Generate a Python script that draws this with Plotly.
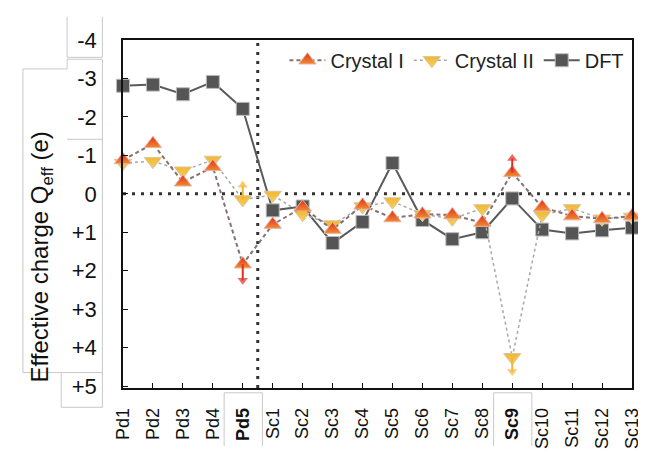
import plotly.graph_objects as go

categories = ["Pd1", "Pd2", "Pd3", "Pd4", "Pd5", "Sc1", "Sc2", "Sc3", "Sc4", "Sc5",
              "Sc6", "Sc7", "Sc8", "Sc9", "Sc10", "Sc11", "Sc12", "Sc13"]
tick_labels = ["Pd1", "Pd2", "Pd3", "Pd4", "<b>Pd5</b>", "Sc1", "Sc2", "Sc3", "Sc4", "Sc5",
               "Sc6", "Sc7", "Sc8", "<b>Sc9</b>", "Sc10", "Sc11", "Sc12", "Sc13"]

crystal1 = [-0.88, -1.30, -0.30, -0.70, 1.83, 0.80, 0.35, 0.93, 0.30, 0.63,
            0.53, 0.55, 0.75, -0.55, 0.35, 0.58, 0.65, 0.58]
crystal2 = [-0.80, -0.85, -0.60, -0.88, 0.15, 0.03, 0.53, 0.80, 0.33, 0.20,
            0.53, 0.65, 0.38, 4.25, 0.55, 0.38, 0.65, 0.60]
dft = [-2.81, -2.84, -2.59, -2.91, -2.21, 0.43, 0.33, 1.28, 0.73, -0.80,
       0.68, 1.18, 1.00, 0.12, 0.93, 1.03, 0.95, 0.88]

# range arrows: (category, start, end)
c1_arrows = [("Pd5", 1.83, 2.25), ("Sc9", -0.55, -0.92)]
c2_arrows = [("Pd5", 0.15, -0.22), ("Sc9", 4.25, 4.62)]

y_ticks = [-4, -3, -2, -1, 0, 1, 2, 3, 4, 5]
y_tick_text = ["-4", "-3", "-2", "-1", "0", "+1", "+2", "+3", "+4", "+5"]

RED = "#e0301e"
YEL = "#f2b632"
GRAY = "#555555"
FONT = "Liberation Sans, Arial, sans-serif"

fig = go.Figure()

fig.add_trace(go.Scatter(
    x=categories, y=dft, name="DFT", mode="lines+markers", legendrank=3,
    line=dict(color="#5a5a5a", width=2),
    marker=dict(symbol="square", size=13, color=GRAY, line=dict(color="#bbbbbb", width=1)),
    cliponaxis=False))

fig.add_trace(go.Scatter(
    x=categories, y=crystal2, name="Crystal II", mode="lines+markers", legendrank=2,
    line=dict(color="#a8a8a8", width=1.5, dash="dot"),
    marker=dict(symbol="triangle-down", size=15, color=YEL,
                gradient=dict(type="vertical", color="#f7d060"),
                line=dict(color="#d8c8a0", width=1)),
    cliponaxis=False))

fig.add_trace(go.Scatter(
    x=categories, y=crystal1, name="Crystal I", mode="lines+markers", legendrank=1,
    line=dict(color="#867272", width=2, dash="4px,3px"),
    marker=dict(symbol="triangle-up", size=15, color=RED,
                gradient=dict(type="vertical", color="#f08a30"),
                line=dict(color="#e8b0a0", width=1)),
    cliponaxis=False))


def add_arrows(arrows, color):
    for cat, y0, y1 in arrows:
        sym = "triangle-down" if y1 > y0 else "triangle-up"
        fig.add_trace(go.Scatter(
            x=[cat, cat], y=[y0, y1], mode="lines+markers", showlegend=False,
            line=dict(color=color, width=2),
            marker=dict(symbol=sym, size=[0, 9], color=color, line=dict(width=0)),
            cliponaxis=False, hoverinfo="skip"))


add_arrows(c2_arrows, YEL)
add_arrows(c1_arrows, RED)

# axes geometry helpers (pixels -> paper)
L, R, T, B = 115, 12, 32, 60
W, H = 646, 453
PW, PH = W - L - R, H - T - B


def px(x):
    return (x - L) / PW


def py(y):
    return (H - B - y) / PH


shapes = []
# reference lines
shapes.append(dict(type="line", xref="paper", yref="y", x0=0, x1=1, y0=0, y1=0,
                   line=dict(color="#333333", width=3, dash="3px,6px"), layer="below"))
shapes.append(dict(type="line", xref="x", yref="paper", x0=4.5, x1=4.5, y0=0, y1=1,
                   line=dict(color="#333333", width=3, dash="3px,6px"), layer="below"))

BOX = dict(color="#c8c8c8", width=1)
# label boxes on the left
path = (f"M {px(58)},{py(52)} L {px(94)},{py(52)} L {px(94)},{py(413)} L {px(52)},{py(413)} "
        f"L {px(52)},{py(377)} L {px(13)},{py(377)} L {px(13)},{py(62)} L {px(58)},{py(62)} Z")
shapes.append(dict(type="path", xref="paper", yref="paper", path=path, line=BOX))
path2 = (f"M {px(58)},{py(8)} L {px(58)},{py(50)} L {px(94)},{py(50)} L {px(94)},{py(8)}")
shapes.append(dict(type="path", xref="paper", yref="paper", path=path2, line=BOX))
shapes.append(dict(type="line", xref="paper", yref="paper", x0=px(58), x1=px(94),
                   y0=py(135), y1=py(135), line=BOX))
shapes.append(dict(type="line", xref="paper", yref="paper", x0=px(52), x1=px(94),
                   y0=py(377), y1=py(377), line=BOX))
# boxes around highlighted x labels
for idx in (4, 13):
    cx = L + idx * PW / 17
    shapes.append(dict(type="path", xref="paper", yref="paper",
                       path=f"M {px(cx-19)},{py(453)} L {px(cx-19)},{py(398)} L {px(cx+20)},{py(398)} L {px(cx+20)},{py(453)}",
                       line=BOX))

fig.update_layout(
    width=W, height=H,
    margin=dict(l=L, r=R, t=T, b=B),
    paper_bgcolor="white", plot_bgcolor="white",
    font=dict(family=FONT, color="#111111"),
    shapes=shapes,
    showlegend=True,
    legend=dict(orientation="h", x=0.995, xanchor="right", y=py(53), yanchor="middle",
                font=dict(size=20, family=FONT, color="#222222"), itemwidth=36,
                bgcolor="rgba(0,0,0,0)", traceorder="normal"),
    annotations=[dict(text="Effective charge Q<sub>eff</sub> (e)", xref="paper", yref="paper",
                      x=px(32), y=py(257), textangle=-90, showarrow=False,
                      font=dict(size=24, family=FONT, color="#111111"),
                      xanchor="center", yanchor="middle")],
)

fig.update_xaxes(
    type="category", categoryorder="array", categoryarray=categories,
    range=[0, 17], tickmode="array", tickvals=categories, ticktext=tick_labels,
    tickangle=-90, tickfont=dict(size=18, family=FONT, color="#111111"),
    ticks="inside", ticklen=5, tickcolor="#111111", ticklabelstandoff=11,
    showline=True, linecolor="#111111", linewidth=1.5, mirror=True,
    showgrid=False, zeroline=False)

fig.update_yaxes(
    range=[5.05, -4], tickmode="array", tickvals=y_ticks, ticktext=y_tick_text,
    tickfont=dict(size=22, family=FONT, color="#111111"),
    ticks="inside", ticklen=5, tickcolor="#111111", ticklabelstandoff=20,
    showline=True, linecolor="#111111", linewidth=1.5, mirror=True,
    showgrid=False, zeroline=False)

fig.write_html("out.html")
